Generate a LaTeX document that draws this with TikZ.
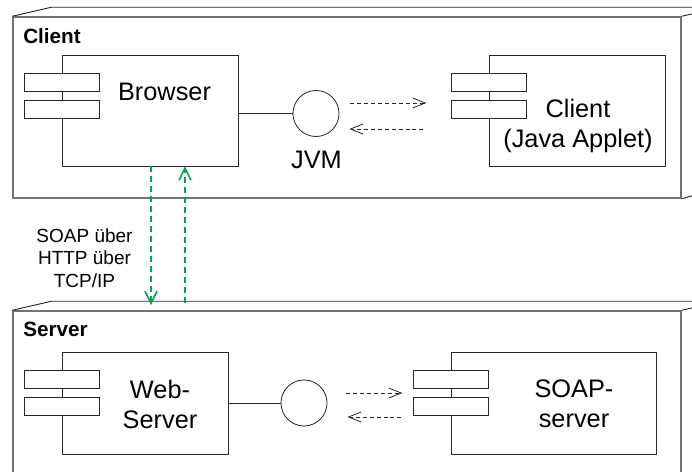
\documentclass[tikz,border=0pt]{standalone}
\usepackage{fontspec}
\setmainfont{Liberation Sans}
\usetikzlibrary{arrows.meta,calc,positioning}
\definecolor{soapgreen}{RGB}{0,166,81}

\begin{document}
\begin{tikzpicture}[
		x=0.75pt,y=-0.75pt,
		bigtext/.style={font=\fontsize{19}{22.5}\selectfont,align=center,inner sep=0},
		nodelabel/.style={font=\bfseries\fontsize{15.5}{18}\selectfont,anchor=base west,inner sep=0},
		nodeface/.style={draw=black!55,line width=1.1pt,inner sep=0},
		nodeedge/.style={draw=black!85,line width=0.7pt},
		comp/.style={draw=black!85,line width=0.6pt,inner sep=0,minimum height=111*0.75pt},
		tab/.style={draw=black!85,line width=0.6pt,fill=white,inner sep=0,minimum width=75*0.75pt,minimum height=18.5*0.75pt},
		iface/.style={circle,draw=black!85,line width=0.6pt,inner sep=0,minimum size=46*0.75pt},
		wire/.style={draw=black!85,line width=0.6pt},
		msg/.style={draw=black!85,line width=0.6pt,dash pattern=on 3pt off 2.2pt,-{Straight Barb[length=9.5pt,width=7.5pt]}},
		link/.style={draw=soapgreen,line width=1.8pt,dash pattern=on 4.5pt off 3pt,-{Straight Barb[length=9pt,width=9pt,line width=1.2pt]}}
		]
		\useasboundingbox (0,0) rectangle (692,471);
		\clip (0,0) rectangle (692,471);
		
		% Knoten Client
		\node[nodeface,minimum width=668*0.75pt,minimum height=181*0.75pt] (clientnode) at (347,107.5) {};
		\draw[nodeedge] (clientnode.north west) -- ++(39,-9) -- ++(668,0) -- ++(0,181) -- (clientnode.south east);
		\draw[nodeedge] (clientnode.north east) -- ++(39,-9);
		\node[nodelabel] (clientlbl) at (23,43) {Client};
		
		% Browser
		\node[comp,minimum width=176*0.75pt] (browser) at (150,110.5) {};
		\node[tab] (browsertaba) at ($(browser.north west)+(0.5,28)$) {};
		\node[tab] (browsertabb) at ($(browser.north west)+(0.5,55)$) {};
		\node[bigtext,anchor=base] (browsertxt) at (164.5,100.5) {Browser};
		
		% JVM
		\node[iface] (jvm) at (316,113.5) {};
		\node[bigtext,anchor=base] (jvmtxt) at (316.5,168) {JVM};
		\draw[wire] (browser.east |- jvm) -- (jvm);
		
		% Applet
		\node[comp,minimum width=176*0.75pt] (applet) at (577,110.5) {};
		\node[tab] (applettaba) at ($(applet.north west)+(0,28)$) {};
		\node[tab] (applettabb) at ($(applet.north west)+(0,55)$) {};
		\node[bigtext] (applettxt) at (578,125.5) {Client\\(Java Applet)};
		
		\draw[msg] ($(jvm.east)+(11,-10.5)$) -- ++(76,0);
		\draw[msg] ($(jvm.east)+(84,15.5)$) -- ++(-74,0);
		
		% Knoten Server
		\node[nodeface,minimum width=668*0.75pt,minimum height=166*0.75pt] (servernode) at (347,394) {};
		\draw[nodeedge] (servernode.north west) -- ++(39,-9) -- ++(668,0) -- ++(0,166) -- (servernode.south east);
		\draw[nodeedge] (servernode.north east) -- ++(39,-9);
		\node[nodelabel] (serverlbl) at (23,336) {Server};
		
		% Web-Server
		\node[comp,minimum width=166*0.75pt,minimum height=102*0.75pt] (websrv) at (145,403) {};
		\node[tab] (websrvtaba) at ($(websrv.north west)+(0.5,28)$) {};
		\node[tab] (websrvtabb) at ($(websrv.north west)+(0.5,55)$) {};
		\node[bigtext] (websrvtxt) at (160,404) {Web-\\Server};
		
		\node[iface] (srviface) at (304,403) {};
		\draw[wire] (websrv.east) -- (srviface);
		
		% SOAP-Server
		\node[comp,minimum width=205*0.75pt,minimum height=102*0.75pt] (soapsrv) at (553.5,403) {};
		\node[tab] (soapsrvtaba) at ($(soapsrv.north west)+(0,28)$) {};
		\node[tab] (soapsrvtabb) at ($(soapsrv.north west)+(0,55)$) {};
		\node[bigtext] (soapsrvtxt) at (574,404) {SOAP-\\server};
		
		\draw[msg] ($(srviface.east)+(19,-10)$) -- ++(56,0);
		\draw[msg] ($(srviface.east)+(74,14)$) -- ++(-54,0);
		
		% Verbindung Browser <-> Server
		\coordinate (soapdown) at (151,305);
		\coordinate (soapup) at (185,303);
		\draw[link] (browser.south -| soapdown) -- (soapdown);
		\draw[link] (soapup) -- (browser.south -| soapup);
		\node[font=\fontsize{14.25}{17}\selectfont,align=center] (soaplbl) at (84.5,258) {SOAP über\\HTTP über\\TCP/IP};
		
	\end{tikzpicture}
\end{document}
